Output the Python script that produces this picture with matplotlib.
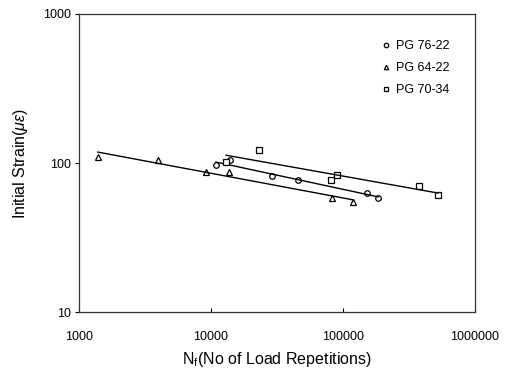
import matplotlib
matplotlib.use('Agg')
import matplotlib.pyplot as plt
from matplotlib.ticker import FixedLocator, NullLocator, FixedFormatter
import numpy as np

plt.rcParams['font.family'] = ['Liberation Sans', 'DejaVu Sans']
plt.rcParams['mathtext.fontset'] = 'custom'
plt.rcParams['mathtext.rm'] = 'Liberation Sans'
plt.rcParams['mathtext.it'] = 'Liberation Sans:italic'

# PG 76-22 (circles)
n_7622 = [10900, 29100, 45600, 152800, 185000, 13900]
s_7622 = [97, 81.8, 76.9, 62.7, 58.5, 104]
# PG 64-22 (triangles)
n_6422 = [1390, 3990, 9160, 13800, 83000, 119700]
s_6422 = [110, 104, 87.4, 87, 58.5, 55]
# PG 70-34 (squares)
n_7034 = [13000, 23100, 81100, 89500, 377000, 527000]
s_7034 = [102, 122, 76.9, 83, 70, 61]

series = [
    ('PG 76-22', n_7622, s_7622, 'o'),
    ('PG 64-22', n_6422, s_6422, '^'),
    ('PG 70-34', n_7034, s_7034, 's'),
]

fig = plt.figure(figsize=(5.08, 3.73), dpi=100)
ax = fig.add_axes([0.1555, 0.1635, 0.7795, 0.799])

for name, n, s, m in series:
    n = np.array(n, dtype=float)
    s = np.array(s, dtype=float)
    ax.plot(n, s, linestyle='none', marker=m, markersize=4,
            markerfacecolor='white', markeredgecolor='black',
            markeredgewidth=0.9, label=name)
    # power-law trend line
    k, b = np.polyfit(np.log10(n), np.log10(s), 1)
    xs = np.logspace(np.log10(n.min()), np.log10(n.max()), 50)
    ax.plot(xs, 10 ** (k * np.log10(xs) + b), color='black', lw=1.0)

ax.set_xscale('log')
ax.set_yscale('log')
ax.set_xlim(1000, 1000000)
ax.set_ylim(10, 1000)

ax.xaxis.set_major_locator(FixedLocator([1000, 10000, 100000, 1000000]))
ax.xaxis.set_major_formatter(FixedFormatter(['1000', '10000', '100000', '1000000']))
ax.yaxis.set_major_locator(FixedLocator([10, 100, 1000]))
ax.yaxis.set_major_formatter(FixedFormatter(['10', '100', '1000']))
ax.xaxis.set_minor_locator(NullLocator())
ax.yaxis.set_minor_locator(NullLocator())
ax.tick_params(axis='x', direction='in', length=3, pad=14, labelsize=9)
ax.tick_params(axis='y', direction='out', length=3, pad=3, labelsize=9)

for sp in ax.spines.values():
    sp.set_linewidth(0.9)
    sp.set_color('#333333')

ax.set_xlabel(r'N$_{\mathrm{f}}$(No of Load Repetitions)', fontsize=11.5, labelpad=5)
ax.set_ylabel(r'Initial Strain($\mu\varepsilon$)', fontsize=11.5, labelpad=9)

ax.legend(loc='upper right', frameon=False, fontsize=9, handletextpad=0.3,
          bbox_to_anchor=(0.965, 0.95), labelspacing=0.8, handlelength=1.0,
          markerscale=0.8)

fig.savefig('out.png', dpi=100)
